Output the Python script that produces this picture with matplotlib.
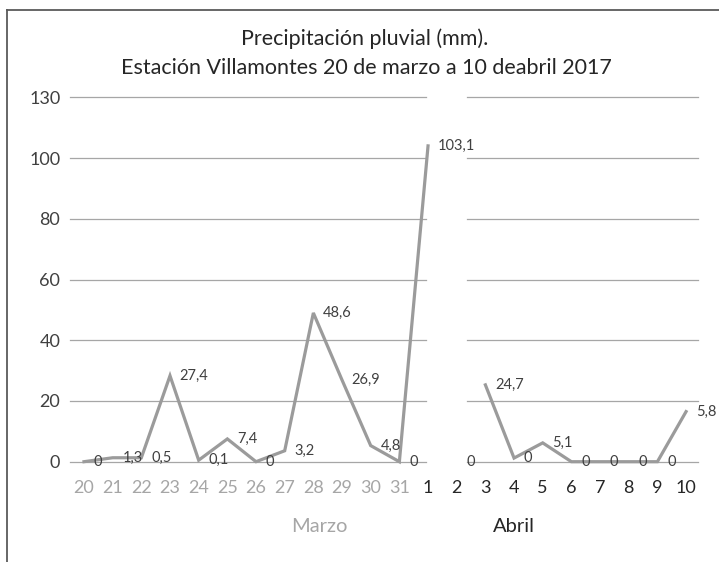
import numpy as np
import matplotlib
matplotlib.use("Agg")
import matplotlib.pyplot as plt
from matplotlib.lines import Line2D

plt.rcParams['font.family'] = ['Lato', 'DejaVu Sans']

# ---- data ----
days = ['20', '21', '22', '23', '24', '25', '26', '27', '28', '29', '30', '31',
        '1', '2', '3', '4', '5', '6', '7', '8', '9', '10']
months = ['Marzo'] * 12 + ['Abril'] * 10
# values as drawn by the line (mm); day 2 of April has no line point
line_values = [0, 1.3, 1.3, 28.3, 0.5, 7.5, 0, 3.6, 49.0, 26.9, 5.3, 0,
               104.0, np.nan, 25.3, 1.2, 6.2, 0, 0, 0, 0, 16.5]
# data labels as printed on the chart
label_texts = ['0', '1,3', '0,5', '27,4', '0,1', '7,4', '0', '3,2', '48,6', '26,9', '4,8', '0',
               '103,1', '0', '24,7', '0', '5,1', '0', '0', '0', '0', '5,8']
ytick_values = [0, 20, 40, 60, 80, 100, 120]
ytick_labels = ['0', '20', '40', '60', '80', '100', '130']

title_1 = 'Precipitación pluvial (mm).'
title_2 = 'Estación Villamontes 20 de marzo a 10 deabril 2017'

W, H = 719, 562
fig = plt.figure(figsize=(W / 100, H / 100), dpi=100)
fig.patch.set_facecolor('white')

# frame lines of the chart area (left and top only)
fig.add_artist(Line2D([7 / W, 7 / W], [0, 1 - 9.5 / H], transform=fig.transFigure,
                      color='#5a5a5a', lw=1.3))
fig.add_artist(Line2D([7 / W, 1], [1 - 9.5 / H, 1 - 9.5 / H], transform=fig.transFigure,
                      color='#5a5a5a', lw=1.3))

ax_l, ax_r = 70, 698
ax_b, ax_t = 461.7, 97.3
ax = fig.add_axes([ax_l / W, 1 - ax_b / H, (ax_r - ax_l) / W, (ax_b - ax_t) / H])

x = np.arange(len(days))
x0px, dx = 84.0, 28.67
ax.set_xlim((ax_l - x0px) / dx, (ax_r - x0px) / dx)
ax.set_ylim(0, 120)

for s in ax.spines.values():
    s.set_visible(False)

# gridlines with a break between the two panels
gap_a = (425.7 - x0px) / dx
gap_b = (467.0 - x0px) / dx
xmin, xmax = ax.get_xlim()
for yv in ytick_values:
    ax.plot([xmin, gap_a], [yv, yv], color='#a6a6a6', lw=0.9, zorder=1, clip_on=False)
    ax.plot([gap_b, xmax], [yv, yv], color='#a6a6a6', lw=0.9, zorder=1, clip_on=False)

ax.plot(x, line_values, color='#9b9b9b', lw=2.3, zorder=3, clip_on=False,
        solid_joinstyle='miter')

for xi, v, t in zip(x, line_values, label_texts):
    yv = 0 if np.isnan(v) else v
    ax.annotate(t, (xi, yv), xytext=(7.0, 0), textcoords='offset points',
                ha='left', va='center', fontsize=10.5, color='#404040', zorder=4)

ax.set_yticks(ytick_values)
ax.set_yticklabels(ytick_labels)
ax.set_xticks(x)
ax.set_xticklabels(days)
ax.tick_params(axis='y', length=0, pad=7, labelsize=13, labelcolor='#404040')
ax.tick_params(axis='x', length=0, pad=13, labelsize=13)
for lab, m in zip(ax.get_xticklabels(), months):
    lab.set_color('#a6a6a6' if m == 'Marzo' else '#262626')

fig.text(319 / W, 1 - 526 / H, 'Marzo', ha='center', va='center', fontsize=14.5, color='#a6a6a6')
fig.text(513.5 / W, 1 - 526 / H, 'Abril', ha='center', va='center', fontsize=14.5, color='#262626')

fig.text(365 / W, 1 - 45.0 / H, title_1, ha='center', va='baseline', fontsize=15.5, color='#262626')
fig.text(366 / W, 1 - 74.5 / H, title_2, ha='center', va='baseline', fontsize=15.5, color='#262626')

fig.savefig('out.png', dpi=100, facecolor='white')
